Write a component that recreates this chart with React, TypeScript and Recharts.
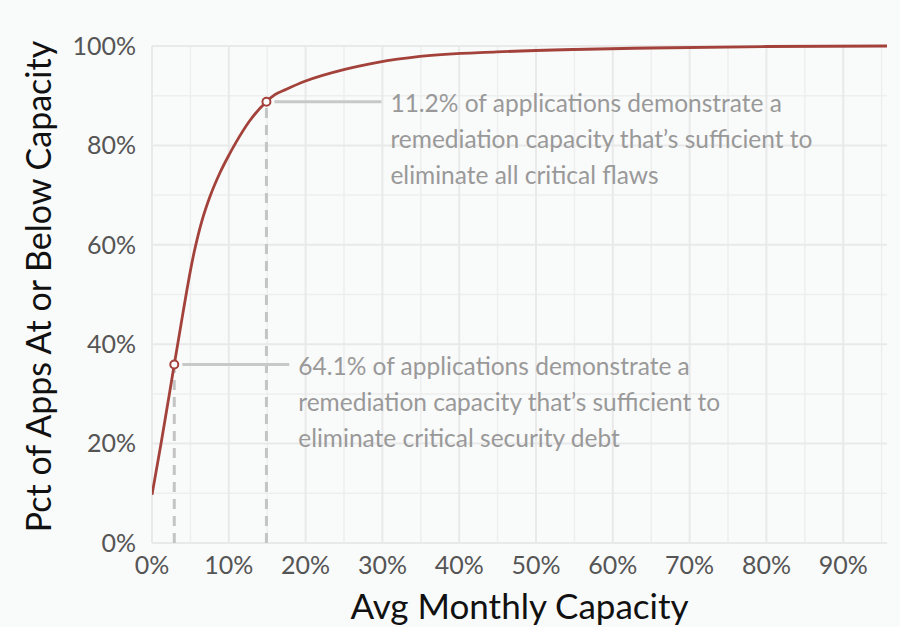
import React from 'react';
import { LineChart, Line, XAxis, YAxis, ReferenceLine, ReferenceDot } from 'recharts';

// Curve: avg monthly capacity (%) vs pct of apps at or below capacity (%)
const capacity = [0, 1.2, 2.9, 4.0, 4.5, 5.0, 5.5, 6.0, 6.5, 7.5, 8.85, 10.0, 10.9, 12.7, 14.9, 16.0, 17.5, 19.9, 25.1, 29.4, 34.9, 44.9, 55, 65, 80, 95.7];
const pctApps = [9.7, 20.2, 35.9, 46.0, 50.5, 54.8, 58.6, 61.9, 64.8, 69.5, 74.5, 78.0, 80.5, 84.9, 88.8, 90.2, 91.3, 92.9, 95.3, 96.7, 97.9, 98.8, 99.3, 99.6, 99.9, 100];

const xTicks = [0, 10, 20, 30, 40, 50, 60, 70, 80, 90];
const yTicks = [0, 20, 40, 60, 80, 100];
const xGridMajor = [0, 10, 20, 30, 40, 50, 60, 70, 80, 90];
const xGridMinor = [5, 15, 25, 35, 45, 55, 65, 75, 85, 95];
const yGridMajor = [0, 20, 40, 60, 80, 100];
const yGridMinor = [10, 30, 50, 70, 90];

const annotX = [2.9, 14.9];
const annotY = [35.9, 88.8];
const annotText = [
  ['64.1% of applications demonstrate a', 'remediation capacity that\u2019s sufficient to', 'eliminate critical security debt'],
  ['11.2% of applications demonstrate a', 'remediation capacity that\u2019s sufficient to', 'eliminate all critical flaws'],
];

const data = capacity.map((x, i) => ({ x, y: pctApps[i] }));

const FONT = 'Lato, "Open Sans", sans-serif';
const RED = '#a3423b';
const BG = '#f9fafa';

const makeAnnotLabel = (lines: string[]) => (props: any) => {
  const vb = props.viewBox || {};
  const cx = vb.x + (vb.width || 0) / 2;
  const cy = vb.y + (vb.height || 0) / 2;
  return (
    <g>
      <line x1={cx + 8} x2={cx + 115} y1={cy} y2={cy} stroke="#c8c8c8" strokeWidth={3} />
      <text x={cx + 124} y={cy} fill="#999999" fontFamily={FONT} fontSize={24.5} dominantBaseline="central">
        {lines.map((l, i) => (
          <tspan key={i} x={cx + 124} y={cy + i * 36}>{l}</tspan>
        ))}
      </text>
    </g>
  );
};

const YTitle = (props: any) => {
  const vb = props.viewBox;
  const x = vb.x + 37;
  const y = vb.y + vb.height / 2 - 8;
  return (
    <text x={x} y={y} transform={`rotate(-90, ${x}, ${y})`} textAnchor="middle" dominantBaseline="central" fontFamily={FONT} fontSize={34} fill="#111">
      Pct of Apps At or Below Capacity
    </text>
  );
};

const XTitle = (props: any) => {
  const vb = props.viewBox;
  const x = vb.x + vb.width / 2;
  const y = vb.y + 62;
  return (
    <text x={x} y={y} textAnchor="middle" dominantBaseline="central" fontFamily={FONT} fontSize={35} fill="#111">
      Avg Monthly Capacity
    </text>
  );
};

export default function App() {
  return (
    <div style={{ position: 'absolute', left: 0, top: 0, width: 900, height: 627, background: BG }}>
      <LineChart width={900} height={627} data={data} margin={{ top: 46, right: 13, bottom: 0, left: 0 }}>
        <XAxis
          type="number"
          dataKey="x"
          domain={[0, 95.7]}
          ticks={xTicks}
          allowDataOverflow
          axisLine={false}
          tickLine={false}
          height={84}
          tickMargin={7}
          tick={{ fontFamily: FONT, fontSize: 25, fill: '#555' }}
          tickFormatter={(v: number) => `${v}%`}
          label={<XTitle />}
        />
        <YAxis
          type="number"
          domain={[0, 100]}
          ticks={yTicks}
          axisLine={false}
          tickLine={false}
          width={152}
          tickMargin={10}
          tick={{ fontFamily: FONT, fontSize: 25, fill: '#555' }}
          tickFormatter={(v: number) => `${v}%`}
          label={<YTitle />}
        />
        {xGridMinor.map((v) => (
          <ReferenceLine key={'xm' + v} x={v} stroke="#eeeeee" strokeWidth={1.5} />
        ))}
        {yGridMinor.map((v) => (
          <ReferenceLine key={'ym' + v} y={v} stroke="#eeeeee" strokeWidth={1.5} />
        ))}
        {xGridMajor.map((v) => (
          <ReferenceLine key={'xM' + v} x={v} stroke="#e9e9e9" strokeWidth={2} />
        ))}
        {yGridMajor.map((v) => (
          <ReferenceLine key={'yM' + v} y={v} stroke="#e9e9e9" strokeWidth={2} />
        ))}
        {annotX.map((x, i) => (
          <ReferenceLine
            key={'d' + i}
            segment={[{ x, y: 0 }, { x, y: annotY[i] }]}
            stroke="#c4c4c4"
            strokeWidth={3}
            strokeDasharray="10 7"
          />
        ))}
        <Line type="monotone" dataKey="y" stroke={RED} strokeWidth={2.8} dot={false} isAnimationActive={false} />
        {annotX.map((x, i) => (
          <ReferenceDot
            key={'p' + i}
            x={x}
            y={annotY[i]}
            r={4}
            fill="#ffffff"
            stroke={RED}
            strokeWidth={2}
            label={makeAnnotLabel(annotText[i])}
          />
        ))}
      </LineChart>
    </div>
  );
}
